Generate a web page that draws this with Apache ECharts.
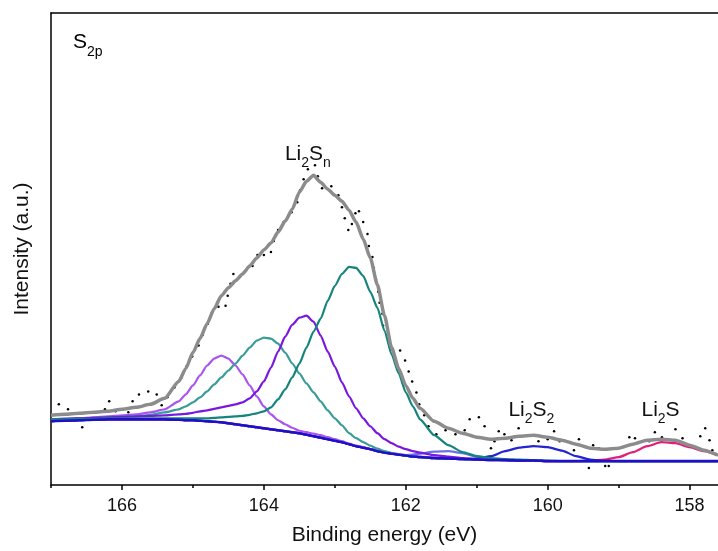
<!DOCTYPE html>
<html>
<head>
<meta charset="utf-8">
<script src="https://cdn.jsdelivr.net/npm/echarts@6/dist/echarts.min.js"></script>
<style>
html,body{margin:0;padding:0;background:#fff;}
#chart{width:718px;height:551px;}
</style>
</head>
<body>
<div id="chart"></div>
<script>
// Binding energy grid (eV)
const energy = [167.0,166.8,166.6,166.4,166.2,166.0,165.8,165.6,165.4,
  165.2,165.1,165.0,164.9,164.8,164.7,164.6,164.5,164.4,164.3,164.2,164.1,164.0,163.9,163.8,163.7,163.6,163.5,163.4,163.3,163.2,163.1,163.0,162.9,162.8,162.7,162.6,162.5,162.4,162.3,162.2,162.1,162.0,161.9,161.8,
  161.6,161.4,161.2,161.0,160.8,160.6,160.4,160.2,160.0,159.8,159.6,159.4,159.2,159.0,158.8,158.6,158.4,158.2,158.0,157.8,157.6];

const envelope = [70,71,72,73,74,76,78,81,87,
  104,117,133,147,162,177,190,198,205,212,220,228,236,243,254,265,277,294,305,311,304,297,291,285,276,264,247,228,201,170,138,117,100,87,77,
  64,57,52,48,46,47,49,50,48,45,41,37,36,37,41,45,46,45,40,35,30];

const background = [64,64.5,65,65.5,66,66,66,66,66,
  65.5,65,65,64.5,64,63.5,63,62,61,60,59,58,57,56,55,54,53,52,50.5,49,47.5,46,44.5,43,41,39,37.5,36,34,32.5,31.5,30.5,29.5,28.5,28,
  27,26.5,26,25.5,25,25,24.5,24.5,24,24,24,24,24,24,24,24,24,24,24,24,24];

const peak1 = [66,66.5,67,68,69,70,71,73,76,
  84,91,100,110,120,127,130,127,120,111,100,89,79,71,65,61,57.5,54.5,53,51.5,50,48,46,44,41.5,39.5,38,36,34.5,33,32,31,30,29,28.5,
  27.5,27,26.5,26,25.5,25,24.5,24.5,24,24,24,24,24,24,24,24,24,24,24,24,24];

const peak2 = [66,66.5,67,67.5,68,68.5,69,70.5,73,
  76,79,83,88,94,101,108,115,122,130,138,145,148,147,142,133,122,112,102,93,84,75,67,60,52,47,43,39.5,36.5,34,32,30.5,29.5,28.5,28,
  27,26.5,26,25.5,25,25,24.5,24.5,24,24,24,24,24,24,24,24,24,24,24,24,24];

const peak3 = [66,66.5,67,67.5,68,68.5,69,69.5,70,
  71,71.5,72.5,74,75,76.5,78,79.5,81,83,87,94,104,118,134,149,161,168,170,164,150,134,119,103,89,77,67,59,52,46,42,38.5,36,34,32.5,
  30,28.5,27,26,25.5,25,24.5,24.5,24,24,24,24,24,24,24,24,24,24,24,24,24];

const peak4 = [66,66,66.5,66.5,67,67,67,67,67,
  67,67,67,67,67,67.5,68,68.5,69,69.5,70.5,72,74,78,86,96,108,122,138,154,167,185,200,212,219,218,210,194,178,155,131,112,93,79,66,
  50,40,33,29,27,26,25.5,25,24.5,24,24,24,24,24,24,24,24,24,24,24,24];

const peak5 = [64,64.5,65,65.5,66,66,66,66,66,
  65.5,65,65,64.5,64,63.5,63,62,61,60,59,58,57,56,55,54,53,52,50.5,49,47.5,46,44.5,43,41,39,37.5,36,34,32.5,31.5,30.5,30,30.5,31.5,
  33.5,34,32,28.5,26,25,24.5,24.5,24,24,24,24,24,24,24,24,24,24,24,24,24];

const peakLi2S2 = [64,64.5,65,65.5,66,66,66,66,66,
  65.5,65,65,64.5,64,63.5,63,62,61,60,59,58,57,56,55,54,53,52,50.5,49,47.5,46,44.5,43,41,39,37.5,36,34,32.5,31.5,30.5,29.5,28.5,28,
  27,26.5,26,26.5,29,34,37.5,39,38,34.5,29,25.5,24.2,24,24,24,24,24,24,24,24];

const peakLi2S = [64,64.5,65,65.5,66,66,66,66,66,
  65.5,65,65,64.5,64,63.5,63,62,61,60,59,58,57,56,55,54,53,52,50.5,49,47.5,46,44.5,43,41,39,37.5,36,34,32.5,31.5,30.5,29.5,28.5,28,
  27,26.5,26,25.5,25,25,24.5,24.5,24,24,24,24.5,25.5,28,33,39,43,42,38,34,30];

// Raw measured points
const dotE = [166.89,166.76,166.65,166.56,166.24,166.18,166.09,165.91,165.85,165.76,
  165.63,165.51,165.44,165.36,165.26,165.16,165.09,165.01,164.92,164.86,
  164.79,164.74,164.64,164.54,164.51,164.47,164.43,164.28,164.16,164.09,
  164.00,163.90,163.86,163.80,163.72,163.61,163.53,163.49,163.44,163.38,
  163.28,163.24,163.18,163.05,162.95,162.90,162.86,162.81,162.76,162.71,
  162.66,162.60,162.54,162.52,162.47,162.45,162.42,162.39,162.37,162.33,
  162.32,162.21,162.08,162.01,161.96,161.91,161.85,161.81,161.74,161.68,
  161.57,161.44,161.30,161.17,161.10,160.97,160.89,160.80,160.75,160.69,
  160.61,160.51,160.41,160.28,160.13,160.00,159.91,159.83,159.63,159.56,
  159.42,159.36,159.28,159.19,159.14,158.85,158.77,158.57,158.49,158.39,
  158.20,158.10,157.92,157.85,157.78,157.72,157.68,157.58];
const dotI = [81,76,67,58,76,84,74,73,84,91,
  94,91,80,88,98,108,119,129,140,151,
  162,172,179,180,190,202,212,214,220,231,
  231,234,245,256,264,274,284,296,307,317,
  321,310,298,300,291,279,268,256,262,273,
  275,264,252,240,229,218,206,194,183,172,
  160,139,135,125,114,104,93,81,70,59,
  51,55,51,55,66,68,59,37,44,54,
  51,45,57,50,44,46,54,44,35,46,
  17,40,37,19,19,48,47,44,53,48,
  56,47,37,49,57,45,35,32];

const majorTicks = [158,160,162,164,166];
const minorTicks = [159,161,163,165,167];

// Annotations
const annText = ['{a|Li}{s|2}{a|S}{s|n}', '{a|Li}{s|2}{a|S}{s|2}', '{a|Li}{s|2}{a|S}'];
const annE = [163.38, 160.23, 158.41];
const annI = [316, 59, 59];

const FONT = '"Liberation Sans", Arial, Helvetica, sans-serif';
const rich = {
  a: {fontSize: 21, fontFamily: FONT, color: '#111', lineHeight: 27, verticalAlign: 'top'},
  s: {fontSize: 14, fontFamily: FONT, color: '#111', lineHeight: 14, verticalAlign: 'bottom'}
};

function pairs(vals) { return energy.map((e, i) => [e, vals[i]]); }

function lineSeries(name, vals, color, width) {
  return {
    name: name, type: 'line', data: pairs(vals), showSymbol: false, symbol: 'none',
    smooth: 0.2, smoothMonotone: 'x',
    lineStyle: {color: color, width: width}, xAxisIndex: 0, yAxisIndex: 0, silent: true
  };
}

const chart = echarts.init(document.getElementById('chart'), null, {renderer: 'canvas'});
const xBase = {type: 'value', inverse: true, min: 157.6, max: 167, gridIndex: 0, splitLine: {show: false}};

chart.setOption({
  animation: false,
  backgroundColor: '#ffffff',
  grid: {left: 51, top: 13, right: 0, bottom: 64, containLabel: false},
  xAxis: [
    Object.assign({}, xBase, {
      position: 'bottom',
      axisLine: {show: true, lineStyle: {color: '#000', width: 1.5}},
      axisTick: {show: true, inside: false, length: 5, customValues: majorTicks, lineStyle: {color: '#000', width: 1.5}},
      axisLabel: {show: true, customValues: majorTicks, fontSize: 18, color: '#111', fontFamily: FONT, margin: 12},
      name: 'Binding energy (eV)', nameLocation: 'middle', nameGap: 40,
      nameTextStyle: {fontSize: 21, color: '#111', fontFamily: FONT}
    }),
    Object.assign({}, xBase, {
      position: 'bottom',
      axisLine: {show: false},
      axisTick: {show: true, inside: false, length: 3, customValues: minorTicks, lineStyle: {color: '#000', width: 1.5}},
      axisLabel: {show: false}
    }),
    Object.assign({}, xBase, {
      position: 'top',
      axisLine: {show: true, lineStyle: {color: '#000', width: 1.5}},
      axisTick: {show: false},
      axisLabel: {show: false}
    })
  ],
  yAxis: [{
    type: 'value', min: 0, max: 474, gridIndex: 0,
    axisLine: {show: true, lineStyle: {color: '#000', width: 1.5}},
    axisTick: {show: false}, axisLabel: {show: false}, splitLine: {show: false},
    name: 'Intensity (a.u.)', nameLocation: 'middle', nameGap: 18,
    nameTextStyle: {fontSize: 21, color: '#111', fontFamily: FONT}
  }],
  graphic: [{
    type: 'text', left: 73, top: 32,
    style: {text: '{a|S}{s|2p}', rich: rich}
  }],
  series: [
    lineSeries('peak5', peak5, '#6a70e8', 2.2),
    lineSeries('Li2S', peakLi2S, '#e0207a', 2.2),
    lineSeries('Li2S2', peakLi2S2, '#2424d0', 2.2),
    lineSeries('peak1', peak1, '#a855f0', 2.2),
    lineSeries('peak2', peak2, '#3a9c98', 2.2),
    lineSeries('peak3', peak3, '#7a18e0', 2.2),
    lineSeries('peak4', peak4, '#13857c', 2.2),
    lineSeries('background', background, '#1e10c8', 2.5),
    lineSeries('envelope', envelope, '#8c8c8c', 3.5),
    {
      name: 'raw', type: 'scatter', data: dotE.map((e, i) => [e, dotI[i]]),
      symbol: 'circle', symbolSize: 2.5, itemStyle: {color: '#000', opacity: 1}, silent: true
    },
    {
      name: 'labels', type: 'scatter', symbolSize: 0, silent: true,
      itemStyle: {opacity: 1},
      data: annE.map((e, i) => ({value: [e, annI[i]], label: {formatter: annText[i]}})),
      label: {show: true, position: 'top', distance: 0, color: '#111', opacity: 1, rich: rich}
    }
  ]
});
</script>
</body>
</html>
